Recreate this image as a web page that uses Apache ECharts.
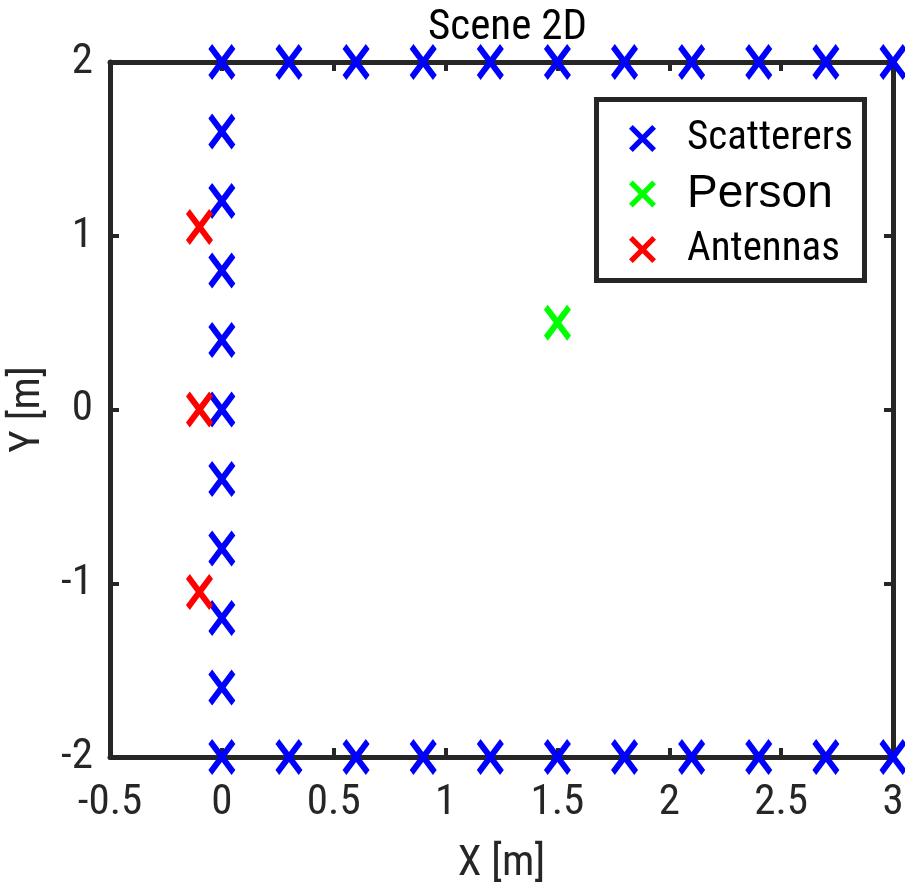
<!DOCTYPE html>
<html>
<head>
<meta charset="utf-8">
<script src="https://cdn.jsdelivr.net/npm/echarts@6/dist/echarts.min.js"></script>
<style>
html,body{margin:0;padding:0;background:#fff;}
#main{width:905px;height:888px;}
</style>
</head>
<body>
<div id="main"></div>
<script>
// Data
var scattererX = [0, 0.3, 0.6, 0.9, 1.2, 1.5, 1.8, 2.1, 2.4, 2.7, 3.0, 0, 0.3, 0.6, 0.9, 1.2, 1.5, 1.8, 2.1, 2.4, 2.7, 3.0, 0, 0, 0, 0, 0, 0, 0, 0, 0];
var scattererY = [2, 2, 2, 2, 2, 2, 2, 2, 2, 2, 2, -2, -2, -2, -2, -2, -2, -2, -2, -2, -2, -2, 1.6, 1.2, 0.8, 0.4, 0, -0.4, -0.8, -1.2, -1.6];
var personX = [1.5];
var personY = [0.5];
var antennaX = [-0.1, -0.1, -0.1];
var antennaY = [1.05, 0, -1.05];
var xTicks = [-0.5, 0, 0.5, 1, 1.5, 2, 2.5, 3];
var yTicks = [-2, -1, 0, 1, 2];

function pairs(xs, ys) { return xs.map(function (x, i) { return [x, ys[i]]; }); }

var XSYM = 'path://M0,14 L14,0 L50,36 L86,0 L100,14 L64,50 L100,86 L86,100 L50,64 L14,100 L0,86 L36,50 Z';
var NARROW = '"Roboto Condensed", "Liberation Sans", Arial, sans-serif';
var AX = '#262626';

var chart = echarts.init(document.getElementById('main'));

function xAxisCfg(pos, showLabel) {
  return {
    type: 'value', position: pos, min: xTicks[0], max: xTicks[xTicks.length - 1], interval: 0.5,
    axisLine: { show: true, onZero: false, lineStyle: { color: AX, width: 5 } },
    axisTick: { show: true, inside: true, length: 9, lineStyle: { color: AX, width: 4 } },
    axisLabel: { show: showLabel, margin: 25, color: AX, fontSize: 43, fontFamily: NARROW },
    splitLine: { show: false },
    name: showLabel ? 'X [m]' : '', nameLocation: 'middle', nameGap: 86,
    nameTextStyle: { color: AX, fontSize: 43, fontFamily: NARROW }
  };
}
function yAxisCfg(pos, showLabel) {
  return {
    type: 'value', position: pos, min: yTicks[0], max: yTicks[yTicks.length - 1], interval: 1,
    axisLine: { show: true, onZero: false, lineStyle: { color: AX, width: 5 } },
    axisTick: { show: true, inside: true, length: 9, lineStyle: { color: AX, width: 4 } },
    axisLabel: { show: showLabel, margin: 17, color: AX, fontSize: 43, fontFamily: NARROW },
    splitLine: { show: false },
    name: showLabel ? 'Y [m]' : '', nameLocation: 'middle', nameGap: 47,
    nameTextStyle: { color: AX, fontSize: 43, fontFamily: NARROW }
  };
}

chart.setOption({
  backgroundColor: '#fff',
  animation: false,
  title: {
    text: 'Scene 2D', left: 423, top: 2,
    textStyle: { color: '#000', fontWeight: 'normal', fontSize: 43, fontFamily: NARROW }
  },
  grid: { left: 110, right: 12, top: 62, bottom: 131, containLabel: false, outerBoundsMode: 'none' },
  xAxis: [xAxisCfg('bottom', true), xAxisCfg('top', false)],
  yAxis: [yAxisCfg('left', true), yAxisCfg('right', false)],
  graphic: [{
    type: 'rect', shape: { x: 596.5, y: 99.5, width: 268, height: 181 },
    style: { fill: '#fff', stroke: AX, lineWidth: 5 }, z: 5
  }],
  legend: {
    orient: 'vertical', left: 624, top: 113, z: 10,
    itemWidth: 27, itemHeight: 36, itemGap: 12,
    textStyle: {
      color: '#000', fontSize: 41, fontFamily: NARROW, lineHeight: 36, padding: [0, 0, 0, 26],
      rich: { p: { fontFamily: '"Liberation Sans", Arial, sans-serif', fontSize: 46, color: '#000', lineHeight: 36 } }
    },
    formatter: function (name) { return name === 'Person' ? '{p|Person}' : name; },
    data: ['Scatterers', 'Person', 'Antennas']
  },
  series: [
    { name: 'Scatterers', type: 'scatter', symbol: XSYM, symbolSize: [27, 36], z: 3,
      itemStyle: { color: '#0000ff', opacity: 1 }, data: pairs(scattererX, scattererY) },
    { name: 'Person', type: 'scatter', symbol: XSYM, symbolSize: [27, 36], z: 3,
      itemStyle: { color: '#00ff00', opacity: 1 }, data: pairs(personX, personY) },
    { name: 'Antennas', type: 'scatter', symbol: XSYM, symbolSize: [27, 36], z: 3,
      itemStyle: { color: '#ff0000', opacity: 1 }, data: pairs(antennaX, antennaY) }
  ]
});
</script>
</body>
</html>
